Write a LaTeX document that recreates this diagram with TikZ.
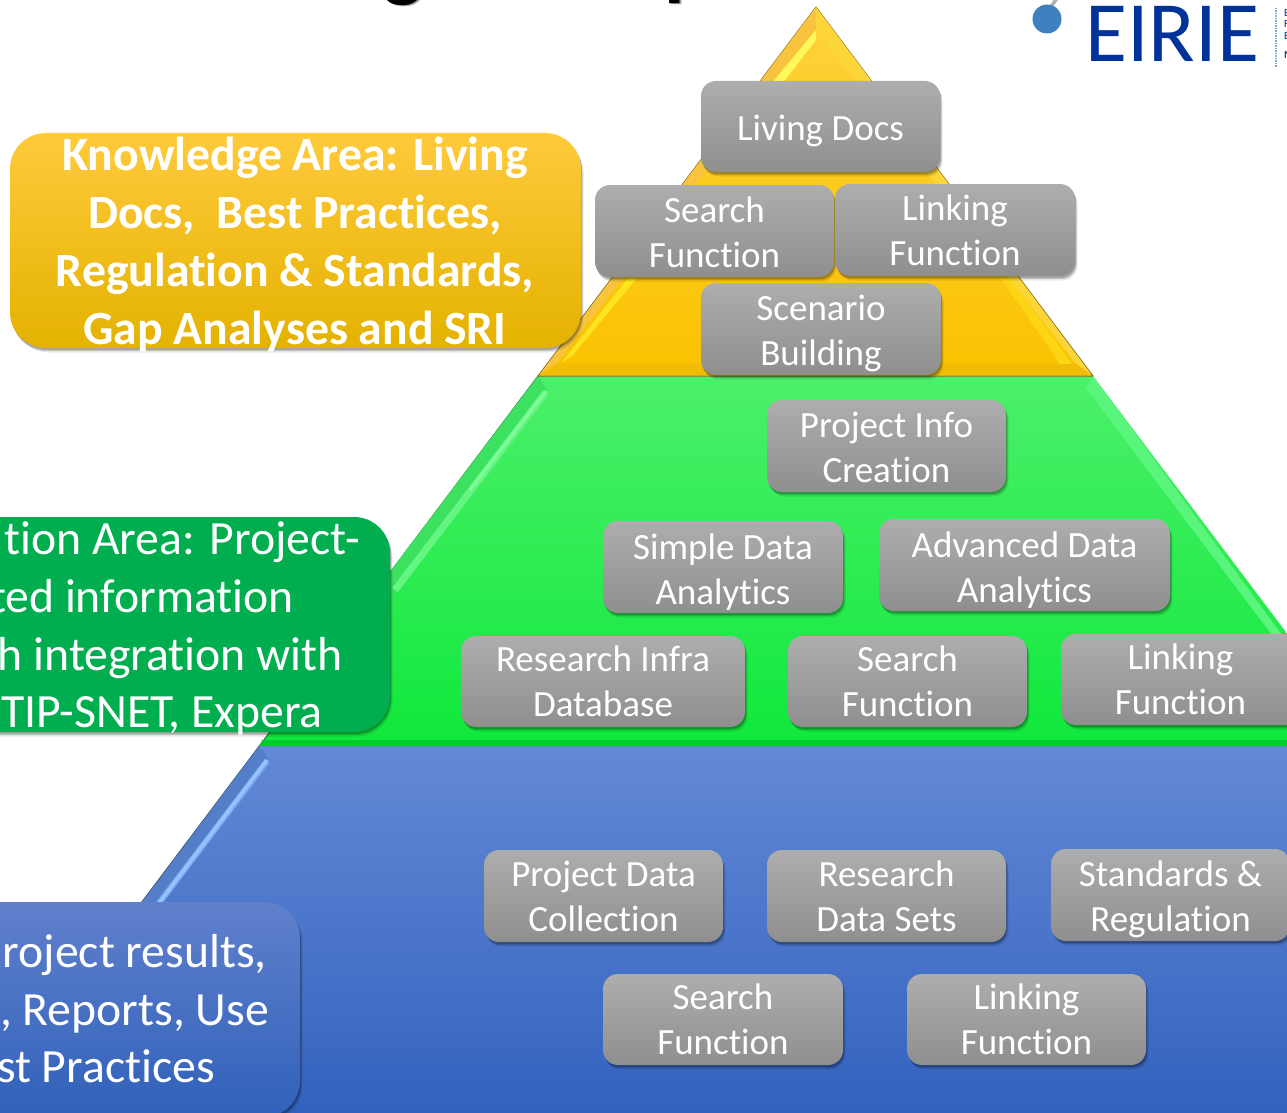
\documentclass[tikz,border=0pt]{standalone}
\usepackage{fontspec}
\setmainfont[Ligatures=NoCommon]{Carlito}
\usetikzlibrary{shadows}
\definecolor{logoblue}{HTML}{003399}
\definecolor{dotblue}{HTML}{3F80BF}
\tikzset{
  softshadow/.style={
    drop shadow={shadow xshift=2.5pt,shadow yshift=-4.5pt,opacity=.09,fill=black},
    drop shadow={shadow xshift=1.5pt,shadow yshift=-3.2pt,opacity=.13,fill=black},
    drop shadow={shadow xshift=1pt,shadow yshift=-2pt,opacity=.18,fill=black}},
  graybox/.style={rectangle,rounded corners=15pt,inner sep=0pt,softshadow,
    top color=black!32,bottom color=black!44,
    text=white,align=center,font=\fontsize{37}{45}\selectfont},
  callout/.style={rectangle,rounded corners=36pt,inner sep=0pt,softshadow,text=white},
  calltext/.style={text=white,inner sep=0pt,font=\fontsize{47.7}{58}\selectfont},
  edgeline/.style={line width=1pt,line join=round},
  titleglyph/.style={anchor=base,inner sep=0pt,font=\fontsize{84}{84}\selectfont\bfseries},
  tinytext/.style={anchor=west,inner sep=0pt,text=logoblue,font=\fontsize{11}{11}\selectfont},
}
% #1 name, #2 left, #3 top, #4 right, #5 bottom, #6 text
\newcommand{\gbox}[6]{%
  \path (#2,#3) -- (#4,#5) node[midway,graybox,minimum width={(#4-#2)*1pt},minimum height={(#5-#3)*1pt}] (#1) {#6};}
% pushes the text of a box a little further down
\newcommand{\dn}{\vrule width 0pt height 35pt\relax}
\newcommand{\dnsmall}{\vrule width 0pt height 29pt\relax}
\begin{document}
\begin{tikzpicture}[x=1pt,y=-1pt]
\useasboundingbox (0,0) rectangle (1287,1113);
\clip (0,0) rectangle (1287,1113);
\fill[white] (0,0) rectangle (1287,1113);

% clipped title
\node[titleglyph,text=black!35] (titleg2) at (405,-7) {g};
\node[titleglyph,text=black!35] (titlep2) at (689,-8) {p};
\node[titleglyph] (titleg) at (403,-8.5) {g};
\node[titleglyph] (titlep) at (687,-9.5) {p};

% blue layer
\shade[top color={rgb,255:red,100;green,137;blue,214},middle color={rgb,255:red,64;green,115;blue,212},bottom color={rgb,255:red,50;green,98;blue,190}]
  (260,745) -- (1371,745) -- (1648,1113) -- (-17,1113) -- cycle;
\draw[color={rgb,255:red,60;green,80;blue,120},edgeline] (260,745) -- (-17,1113);
\fill[color={rgb,255:red,84;green,126;blue,200}] (260,745) -- (268,759) -- (120,950) -- (110,945) -- cycle;
\draw[color={rgb,255:red,120;green,165;blue,240},line width=6pt] (267,761) -- (150,915);
\draw[color={rgb,255:red,150;green,195;blue,255},line width=3.5pt] (267,760) -- (150,915);
\fill[color={rgb,255:red,100;green,137;blue,214}] (260,745) rectangle (1287,749);

% green layer
\shade[top color={rgb,255:red,76;green,240;blue,106},middle color={rgb,255:red,28;green,240;blue,70},bottom color={rgb,255:red,16;green,232;blue,60}]
  (538,376) -- (1093,376) -- (1371,745) -- (260,745) -- cycle;
\draw[color={rgb,255:red,40;green,120;blue,60},edgeline] (538,376) -- (260,745);
\fill[color={rgb,255:red,60;green,225;blue,95}] (538,376) -- (547,390) -- (390,597) -- (380,585) -- cycle;
\draw[color={rgb,255:red,100;green,245;blue,130},line width=7pt] (546,392) -- (395,590);
\draw[color={rgb,255:red,130;green,252;blue,155},line width=3pt] (546,391) -- (470,490);
\fill[color={rgb,255:red,90;green,245;blue,125}] (1093,376) -- (1086,388) -- (1287,655) -- (1287,642) -- cycle;
\fill[color={rgb,255:red,2;green,204;blue,44}] (262,740) -- (1371,740) -- (1375,746) -- (260,746) -- cycle;

% yellow layer
\shade[top color={rgb,255:red,255;green,210;blue,60},middle color={rgb,255:red,255;green,200;blue,0},bottom color={rgb,255:red,250;green,194;blue,0}]
  (816,7) -- (1093,376) -- (538,376) -- cycle;
\draw[color={rgb,255:red,140;green,110;blue,30},edgeline] (816,7) -- (538,376) -- (1093,376) -- cycle;
\fill[color={rgb,255:red,248;green,196;blue,64}] (816,7) -- (816,30) -- (556,364) -- (540,374) -- cycle;
\fill[color={rgb,255:red,252;green,214;blue,56}] (816,7) -- (816,30) -- (1076,364) -- (1091,374) -- cycle;
\fill[color={rgb,255:red,255;green,248;blue,90}] (816,30) -- (816,40) -- (782,84) -- (771,84) -- cycle;
\fill[color={rgb,255:red,255;green,228;blue,30}] (628,278) -- (637,278) -- (572,356) -- (562,362) -- cycle;
\fill[color={rgb,255:red,252;green,214;blue,20}] (1001,278) -- (1010,278) -- (1072,364) -- (1060,364) -- cycle;
\fill[color={rgb,255:red,240;green,188;blue,6}] (556,364) -- (1076,364) -- (1091,375) -- (540,375) -- cycle;

% callouts
\path (10,133) -- (581,348) node[midway,callout,minimum width=571pt,minimum height=215pt,
  top color={rgb,255:red,255;green,202;blue,60},middle color={rgb,255:red,255;green,192;blue,0},bottom color={rgb,255:red,228;green,178;blue,0}] (know) {};
\node[calltext,align=center,font=\fontsize{47.7}{58}\selectfont\bfseries,anchor=center] (knowtext) at (295,245)
  {Knowledge Area: Living\\Docs,\ \ Best Practices,\\Regulation \& Standards,\\Gap Analyses and SRI};

\path (-200,517) -- (390,732) node[midway,callout,minimum width=590pt,minimum height=215pt,
  fill={rgb,255:red,0;green,174;blue,80}] (info) {};
\node[calltext,anchor=base east] (infoa) at (360,554) {tion Area: Project-};
\node[calltext,anchor=base east] (infob) at (294,612) {ted information};
\node[calltext,anchor=base east] (infoc) at (343,670) {h integration with};
\node[calltext,anchor=base east] (infod) at (323,727) {TIP-SNET, Expera};

\path (-300,902) -- (300,1117) node[midway,callout,minimum width=600pt,minimum height=215pt,
  top color={rgb,255:red,96;green,128;blue,204},bottom color={rgb,255:red,48;green,97;blue,186}] (data) {};
\node[calltext,anchor=base east] (dataa) at (267,967) {roject results,};
\node[calltext,anchor=base east] (datab) at (269,1025) {, Reports, Use};
\node[calltext,anchor=base east] (datac) at (215,1082) {st Practices};

% gray boxes
\gbox{living}{701}{81}{940}{172}{\dn Living Docs}
\gbox{searchk}{595}{185}{834}{277}{\dnsmall Search\\Function}
\gbox{linkk}{835}{184}{1075}{276}{Linking\\Function}
\gbox{scen}{701}{283}{941}{375}{\dn Scenario\\Building}
\gbox{pinfo}{767}{400}{1006}{492}{\dnsmall Project Info\\Creation}
\gbox{simple}{603}{521}{843}{613}{\dn Simple Data\\Analytics}
\gbox{adv}{879}{519}{1170}{611}{\dn Advanced Data\\Analytics}
\gbox{infra}{461}{636}{745}{727}{Research Infra\\Database}
\gbox{searchi}{788}{636}{1027}{727}{Search\\Function}
\gbox{linki}{1061}{634}{1300}{725}{Linking\\Function}
\gbox{pdata}{484}{850}{723}{942}{Project Data\\Collection}
\gbox{rdata}{767}{850}{1006}{942}{Research\\Data Sets}
\gbox{stand}{1051}{849}{1290}{941}{\dn Standards \&\\Regulation}
\gbox{searchd}{603}{974}{843}{1065}{Search\\Function}
\gbox{linkd}{907}{974}{1146}{1065}{Linking\\Function}

% logo
\draw[color=black!30,line width=3.5pt] (1050,8) -- (1058,-3);
\fill[dotblue] (1047,19) circle (14.5);
\node[anchor=base west,inner sep=0pt,text=logoblue,font=\fontsize{86}{86}\selectfont] (eirie) at (1085,62) {EIRIE};
\draw[color=dotblue!70,line width=1.5pt,dash pattern=on 1.5pt off 1pt] (1276,8) -- (1276,67);
\node[tinytext] (sa) at (1284,13) {E};
\node[tinytext] (sb) at (1284,24) {F};
\node[tinytext] (sc) at (1284,36) {E};
\node[tinytext,text=dotblue!60!black,font=\fontsize{11}{11}\selectfont\bfseries] (sd) at (1284,55) {M};
\end{tikzpicture}
\end{document}
